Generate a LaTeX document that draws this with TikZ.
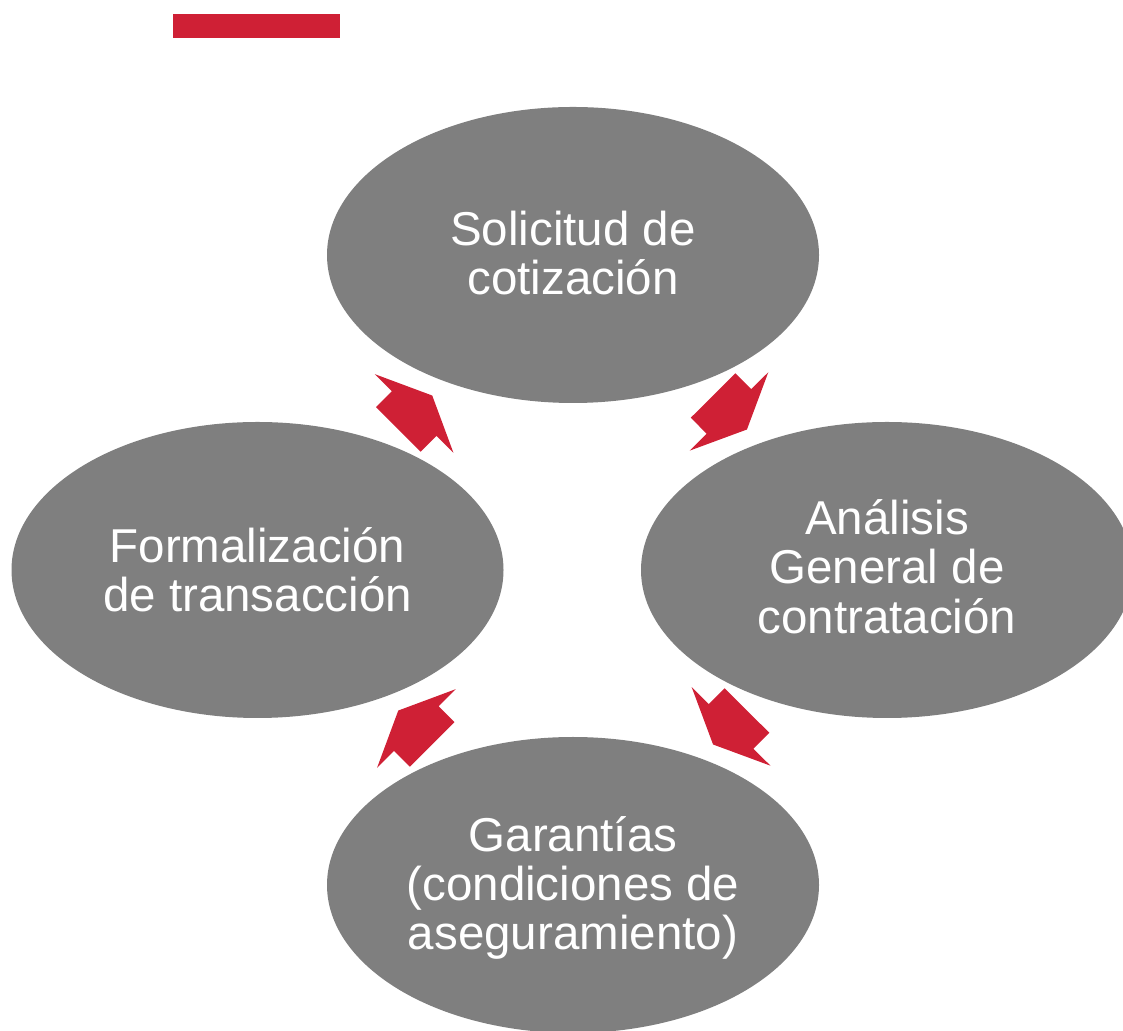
\documentclass[tikz,border=0pt]{standalone}
\usepackage{fontspec}
\setmainfont{Liberation Sans}
\usetikzlibrary{shapes.geometric,calc}
\definecolor{stepgray}{RGB}{127,127,127}
\definecolor{arrowred}{RGB}{207,32,53}
\newcommand{\dropstrut}[1]{\rule[-#1]{0pt}{0pt}}
\newcommand{\tallstrut}[1]{\rule{0pt}{#1}}
\begin{document}
\begin{tikzpicture}[x=1pt,y=1pt,
  stage/.style={ellipse, fill=stepgray, minimum width=492pt, minimum height=296pt,
    inner sep=0pt, text=white, align=center,
    font=\fontsize{47.5}{49.2}\selectfont},
  flowarrow/.pic={\fill[arrowred] (-24,-31.5) -- (-1.5,-31.5) -- (-1.5,-55.6) -- (24,0)
    -- (-1.5,55.6) -- (-1.5,31.5) -- (-24,31.5) -- cycle;},
  onpath/.style={midway, sloped, allow upside down}]
\useasboundingbox (0,0) rectangle (1123,1030);
\node[fill=arrowred, minimum width=167pt, minimum height=24pt, inner sep=0pt,
  anchor=south west] (bar) at (173,992) {};
\node[stage] (top) at (573,775) {Solicitud de\\cotización\dropstrut{4pt}};
\node[stage] (right) at (887,460) {Análisis\\General de\\contratación\dropstrut{7pt}};
\node[stage] (left) at (257.5,460) {Formalización\\de transacción};
\node[stage] (bottom) at (573,145) {\tallstrut{41pt}Garantías\\(condiciones de\\aseguramiento)};
\path (top.center) -- (right.center) pic[onpath] {flowarrow};
\path (right.center) -- (bottom.center) pic[onpath] {flowarrow};
\path (bottom.center) -- (left.center) pic[onpath] {flowarrow};
\path (left.center) -- (top.center) pic[onpath] {flowarrow};
\end{tikzpicture}
\end{document}
